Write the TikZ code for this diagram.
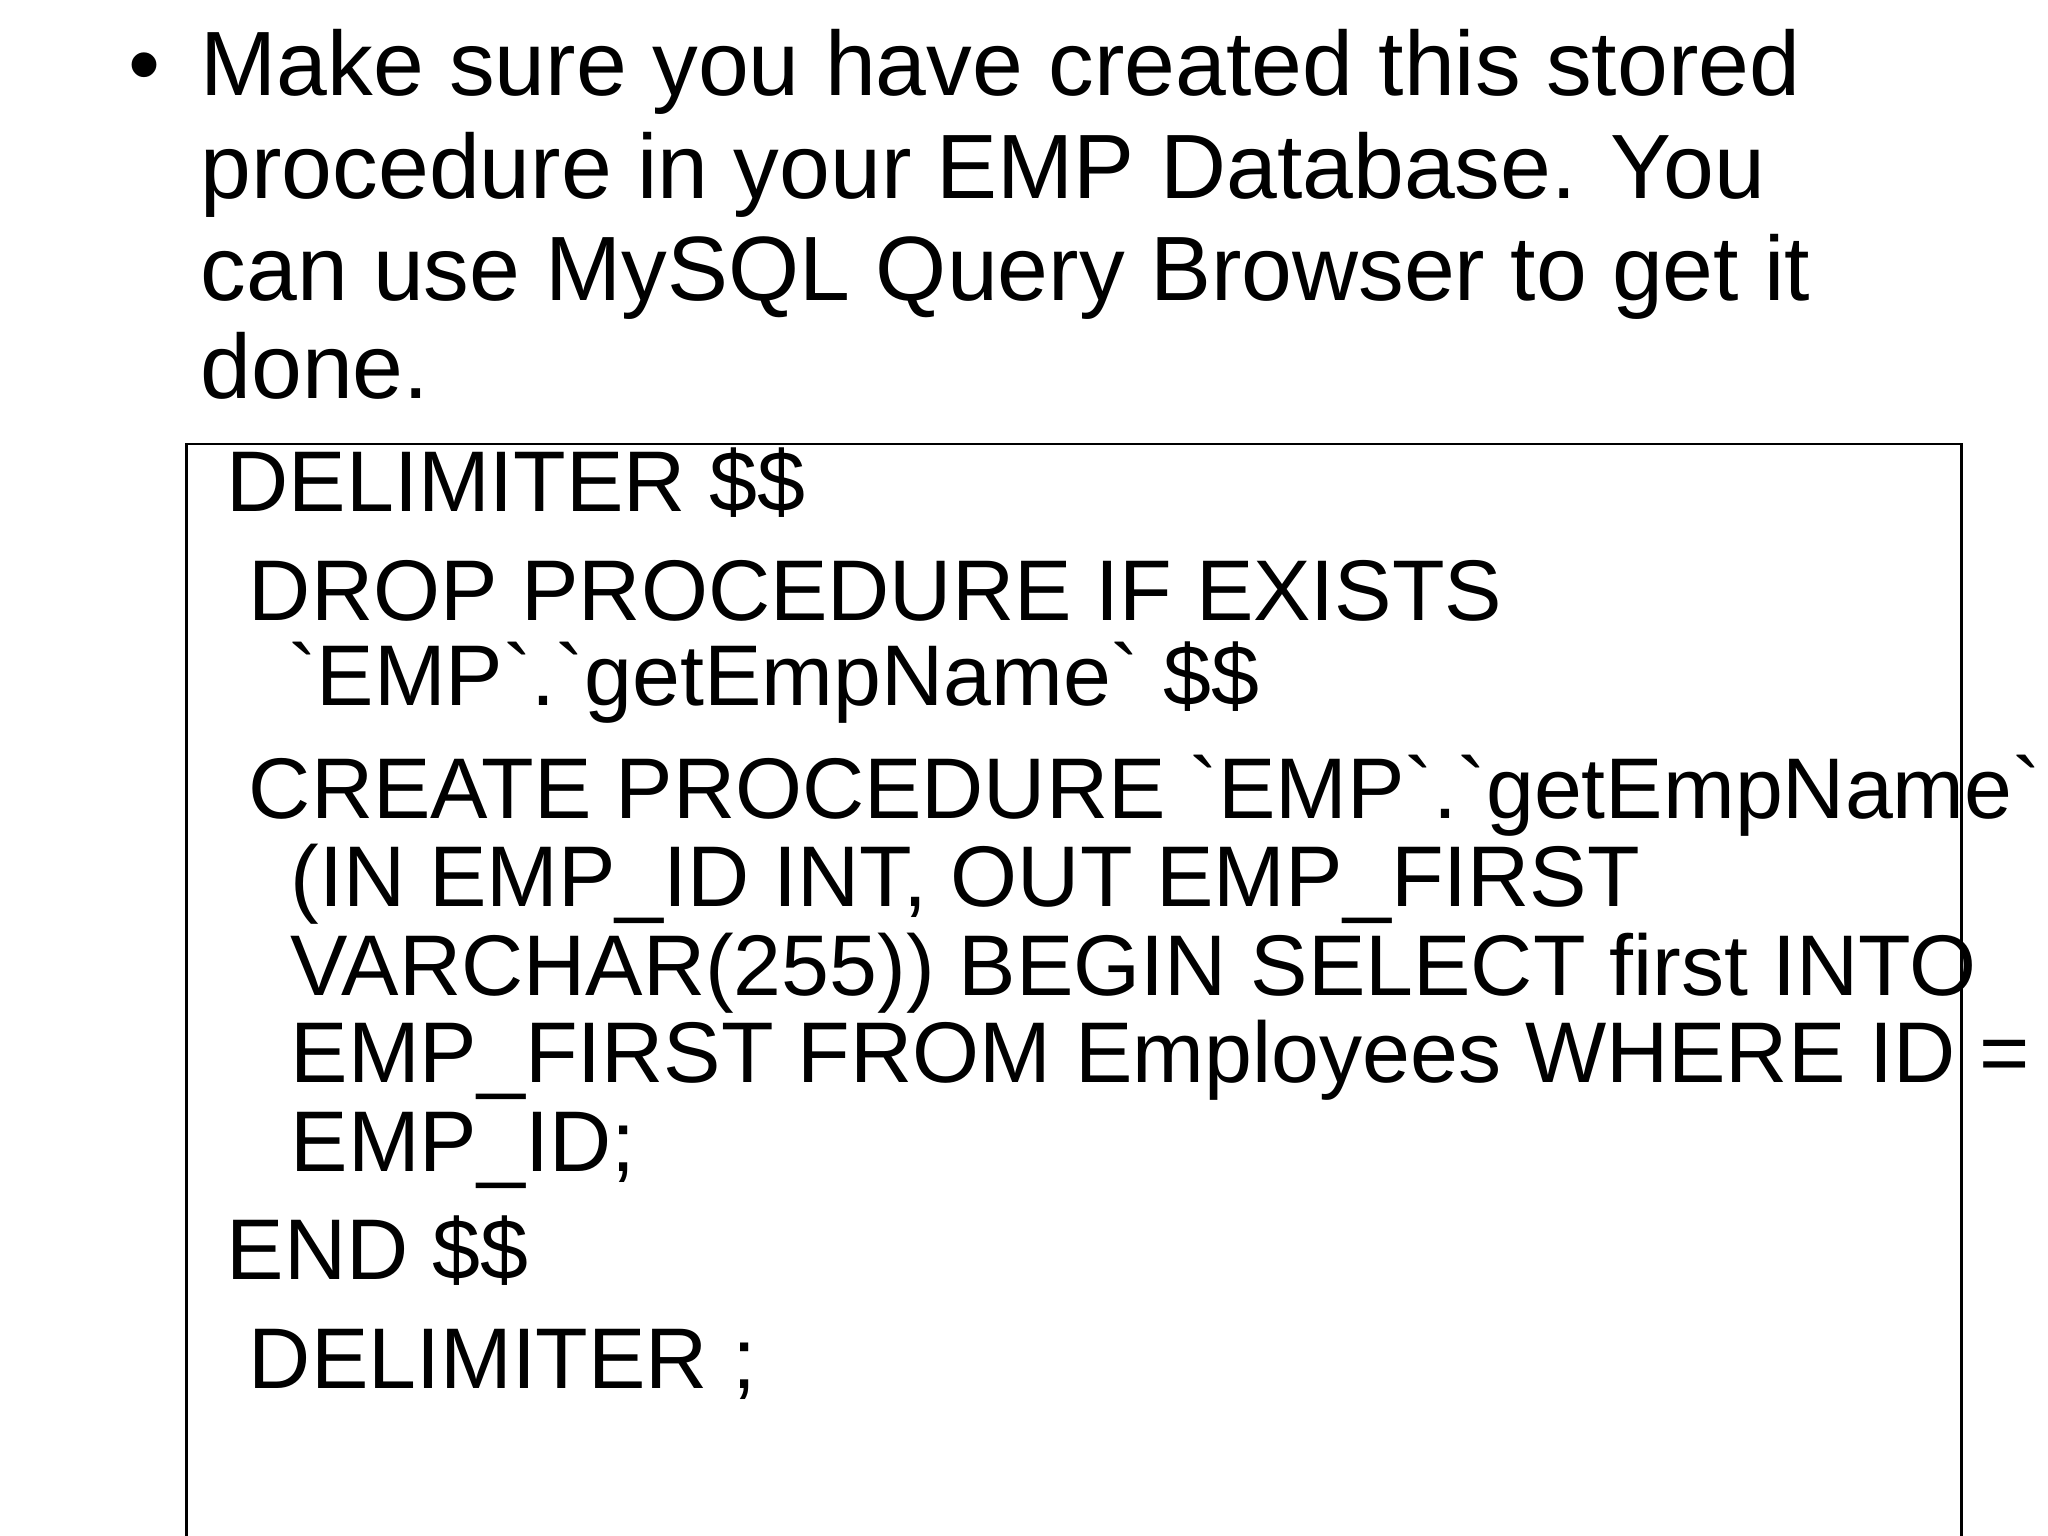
\documentclass[tikz,border=0pt]{standalone}
\usepackage{fontspec}
\setmainfont{Liberation Sans}
\newcommand{\bq}{\textasciigrave}
\begin{document}
\begin{tikzpicture}[x=0.01306cm,y=-0.01306cm,
  bt/.style={anchor=base west,inner sep=0pt,font=\fontsize{26}{29}\selectfont},
  ct/.style={anchor=base west,inner sep=0pt,font=\fontsize{24.5}{26}\selectfont}]
\useasboundingbox (0,0) rectangle (1568,1176);
\node[bt] (b0) at (98,73) {•};
\node[bt] (l1) at (153,73) {Make sure you have created this stored};
\node[bt] (l2) at (153,152) {procedure in your EMP Database. You};
\node[bt] (l3) at (153,230) {can use MySQL Query Browser to get it};
\node[bt] (l4) at (153,305) {done.};
\draw[line width=0.8pt] (143,1176) -- (143,340) -- (1502,340) -- (1502,1176);
\node[ct] (c1) at (173,392) {DELIMITER \$\$};
\node[ct] (c2) at (190,475) {DROP PROCEDURE IF EXISTS};
\node[ct] (c3) at (220,540) {\bq EMP\bq.\bq getEmpName\bq\ \$\$};
\node[ct] (c4) at (190,627) {CREATE PROCEDURE \bq EMP\bq.\bq getEmpName\bq};
\node[ct] (c5) at (222,694) {(IN EMP\_ID INT, OUT EMP\_FIRST};
\node[ct] (c6) at (222,762) {VARCHAR(255)) BEGIN SELECT first INTO};
\node[ct] (c7) at (222,829) {EMP\_FIRST FROM Employees WHERE ID =};
\node[ct] (c8) at (222,897) {EMP\_ID;};
\node[ct] (c9) at (173,980) {END \$\$};
\node[ct] (c10) at (190,1063) {DELIMITER ;};
\end{tikzpicture}
\end{document}
